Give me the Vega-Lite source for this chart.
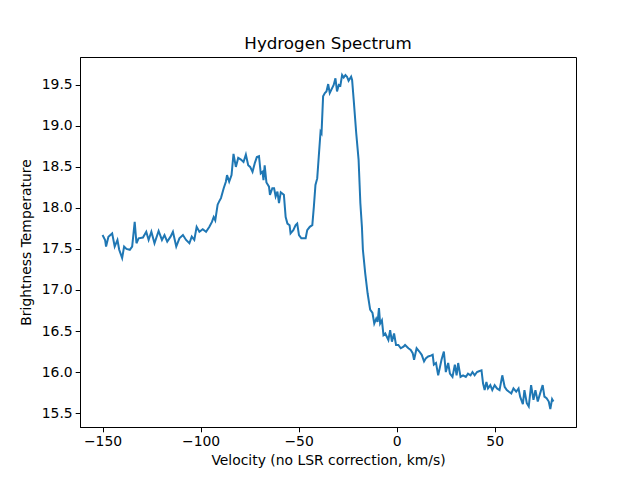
{
  "$schema": "https://vega.github.io/schema/vega-lite/v6.json",
  "autosize": "none",
  "width": 496,
  "height": 370,
  "padding": {"left": 80, "top": 57, "right": 64, "bottom": 53},
  "title": {"text": "Hydrogen Spectrum", "font": "DejaVu Sans", "fontSize": 16.7, "fontWeight": "normal", "color": "black", "offset": 4},
  "data": {"values": [
    {"v": -150.0, "t": 17.67}, {"v": -148.7, "t": 17.61}, {"v": -148.2, "t": 17.53}, {"v": -147.0, "t": 17.65},
    {"v": -145.1, "t": 17.69}, {"v": -143.8, "t": 17.53}, {"v": -142.4, "t": 17.61}, {"v": -141.5, "t": 17.49},
    {"v": -140.0, "t": 17.39}, {"v": -139.0, "t": 17.53}, {"v": -137.8, "t": 17.50}, {"v": -136.1, "t": 17.49},
    {"v": -134.9, "t": 17.53}, {"v": -133.6, "t": 17.83}, {"v": -132.7, "t": 17.57}, {"v": -131.6, "t": 17.63},
    {"v": -129.4, "t": 17.64}, {"v": -127.7, "t": 17.71}, {"v": -126.5, "t": 17.61}, {"v": -125.1, "t": 17.71},
    {"v": -123.5, "t": 17.57}, {"v": -121.4, "t": 17.72}, {"v": -119.7, "t": 17.61}, {"v": -118.4, "t": 17.67},
    {"v": -117.0, "t": 17.59}, {"v": -115.3, "t": 17.65}, {"v": -114.1, "t": 17.71}, {"v": -112.4, "t": 17.53},
    {"v": -110.8, "t": 17.63}, {"v": -109.0, "t": 17.67}, {"v": -107.4, "t": 17.61}, {"v": -105.7, "t": 17.57},
    {"v": -104.5, "t": 17.65}, {"v": -103.2, "t": 17.61}, {"v": -102.0, "t": 17.77}, {"v": -100.6, "t": 17.71},
    {"v": -98.9, "t": 17.74}, {"v": -97.2, "t": 17.71}, {"v": -95.5, "t": 17.77}, {"v": -94.2, "t": 17.83},
    {"v": -93.3, "t": 17.89}, {"v": -92.5, "t": 17.85}, {"v": -91.3, "t": 18.04}, {"v": -90.5, "t": 18.08},
    {"v": -89.6, "t": 18.12}, {"v": -88.2, "t": 18.24}, {"v": -87.1, "t": 18.32}, {"v": -86.5, "t": 18.40},
    {"v": -85.4, "t": 18.32}, {"v": -84.2, "t": 18.40}, {"v": -83.2, "t": 18.66}, {"v": -82.0, "t": 18.50},
    {"v": -80.8, "t": 18.61}, {"v": -79.4, "t": 18.59}, {"v": -78.1, "t": 18.56}, {"v": -76.9, "t": 18.65},
    {"v": -75.7, "t": 18.52}, {"v": -74.7, "t": 18.50}, {"v": -73.5, "t": 18.44}, {"v": -72.3, "t": 18.55},
    {"v": -71.3, "t": 18.62}, {"v": -70.2, "t": 18.63}, {"v": -69.3, "t": 18.42}, {"v": -68.4, "t": 18.44},
    {"v": -67.9, "t": 18.34}, {"v": -67.3, "t": 18.52}, {"v": -66.4, "t": 18.31}, {"v": -65.1, "t": 18.26},
    {"v": -64.6, "t": 18.16}, {"v": -63.4, "t": 18.24}, {"v": -62.5, "t": 18.24}, {"v": -61.7, "t": 18.14},
    {"v": -60.8, "t": 18.20}, {"v": -60.0, "t": 18.06}, {"v": -59.1, "t": 18.19}, {"v": -57.5, "t": 18.16},
    {"v": -56.6, "t": 17.89}, {"v": -55.7, "t": 17.81}, {"v": -54.6, "t": 17.79}, {"v": -54.1, "t": 17.69},
    {"v": -52.7, "t": 17.73}, {"v": -51.5, "t": 17.79}, {"v": -50.7, "t": 17.81}, {"v": -49.8, "t": 17.67},
    {"v": -48.6, "t": 17.63}, {"v": -47.3, "t": 17.63}, {"v": -46.4, "t": 17.63}, {"v": -45.6, "t": 17.73},
    {"v": -44.3, "t": 17.77}, {"v": -43.0, "t": 17.79}, {"v": -42.2, "t": 18.02}, {"v": -41.4, "t": 18.28},
    {"v": -40.5, "t": 18.36}, {"v": -39.7, "t": 18.63}, {"v": -38.8, "t": 18.93}, {"v": -38.3, "t": 18.91},
    {"v": -37.5, "t": 19.36}, {"v": -36.6, "t": 19.40}, {"v": -35.8, "t": 19.42}, {"v": -34.9, "t": 19.51},
    {"v": -34.1, "t": 19.40}, {"v": -32.9, "t": 19.46}, {"v": -32.1, "t": 19.50}, {"v": -31.2, "t": 19.58},
    {"v": -30.4, "t": 19.42}, {"v": -29.5, "t": 19.50}, {"v": -28.7, "t": 19.49}, {"v": -27.8, "t": 19.62},
    {"v": -27.0, "t": 19.59}, {"v": -26.1, "t": 19.62}, {"v": -25.3, "t": 19.60}, {"v": -24.5, "t": 19.55},
    {"v": -23.2, "t": 19.60}, {"v": -22.7, "t": 19.56}, {"v": -21.9, "t": 19.32}, {"v": -20.6, "t": 18.91},
    {"v": -19.4, "t": 18.59}, {"v": -18.5, "t": 18.06}, {"v": -17.7, "t": 17.77}, {"v": -17.2, "t": 17.49},
    {"v": -16.0, "t": 17.20}, {"v": -14.8, "t": 16.96}, {"v": -13.5, "t": 16.76}, {"v": -12.3, "t": 16.72},
    {"v": -11.4, "t": 16.59}, {"v": -10.4, "t": 16.65}, {"v": -9.7, "t": 16.61}, {"v": -9.0, "t": 16.78},
    {"v": -8.4, "t": 16.59}, {"v": -7.5, "t": 16.63}, {"v": -6.7, "t": 16.45}, {"v": -5.8, "t": 16.47},
    {"v": -5.0, "t": 16.43}, {"v": -4.2, "t": 16.39}, {"v": -3.3, "t": 16.51}, {"v": -2.4, "t": 16.37},
    {"v": -1.3, "t": 16.47}, {"v": -0.3, "t": 16.33}, {"v": 0.9, "t": 16.33}, {"v": 2.1, "t": 16.29},
    {"v": 3.5, "t": 16.31}, {"v": 4.3, "t": 16.33}, {"v": 6.0, "t": 16.29}, {"v": 7.2, "t": 16.27},
    {"v": 8.2, "t": 16.23}, {"v": 8.9, "t": 16.15}, {"v": 10.2, "t": 16.29}, {"v": 11.6, "t": 16.25},
    {"v": 12.8, "t": 16.21}, {"v": 14.0, "t": 16.13}, {"v": 15.0, "t": 16.17}, {"v": 16.1, "t": 16.19},
    {"v": 17.4, "t": 16.20}, {"v": 18.4, "t": 16.21}, {"v": 19.0, "t": 16.09}, {"v": 20.1, "t": 16.11},
    {"v": 21.2, "t": 15.96}, {"v": 22.1, "t": 16.06}, {"v": 22.9, "t": 16.15}, {"v": 24.1, "t": 16.25},
    {"v": 25.1, "t": 16.00}, {"v": 26.3, "t": 16.11}, {"v": 27.2, "t": 15.98}, {"v": 28.5, "t": 15.94},
    {"v": 29.7, "t": 16.09}, {"v": 30.6, "t": 15.96}, {"v": 31.4, "t": 16.11}, {"v": 32.6, "t": 15.94},
    {"v": 33.9, "t": 15.96}, {"v": 35.3, "t": 15.94}, {"v": 36.4, "t": 15.98}, {"v": 37.7, "t": 15.96},
    {"v": 38.7, "t": 16.00}, {"v": 39.8, "t": 15.96}, {"v": 41.0, "t": 16.00}, {"v": 42.0, "t": 16.01},
    {"v": 43.3, "t": 16.02}, {"v": 44.1, "t": 15.86}, {"v": 44.9, "t": 15.78}, {"v": 45.8, "t": 15.88},
    {"v": 46.6, "t": 15.80}, {"v": 47.8, "t": 15.84}, {"v": 48.8, "t": 15.78}, {"v": 50.0, "t": 15.84},
    {"v": 51.2, "t": 15.80}, {"v": 52.5, "t": 15.78}, {"v": 53.9, "t": 15.96}, {"v": 55.1, "t": 15.82},
    {"v": 56.2, "t": 15.78}, {"v": 57.3, "t": 15.76}, {"v": 58.5, "t": 15.74}, {"v": 59.6, "t": 15.80},
    {"v": 61.0, "t": 15.76}, {"v": 62.2, "t": 15.80}, {"v": 63.0, "t": 15.70}, {"v": 64.4, "t": 15.61},
    {"v": 65.2, "t": 15.78}, {"v": 66.4, "t": 15.62}, {"v": 67.4, "t": 15.58}, {"v": 68.6, "t": 15.84},
    {"v": 69.8, "t": 15.66}, {"v": 70.8, "t": 15.78}, {"v": 72.0, "t": 15.64}, {"v": 73.2, "t": 15.74},
    {"v": 74.5, "t": 15.84}, {"v": 75.4, "t": 15.70}, {"v": 76.5, "t": 15.68}, {"v": 77.6, "t": 15.64},
    {"v": 78.4, "t": 15.55}, {"v": 79.3, "t": 15.67}, {"v": 80.0, "t": 15.64}
  ]},
  "mark": {"type": "line", "color": "#1f77b4", "strokeWidth": 2, "clip": true},
  "encoding": {
    "x": {
      "field": "v", "type": "quantitative",
      "title": "Velocity (no LSR correction, km/s)",
      "scale": {"domain": [-161.5, 91.5], "nice": false, "zero": false},
      "axis": {"values": [-150, -100, -50, 0, 50], "format": "d", "titlePadding": 5, "labelPadding": 2.5}
    },
    "y": {
      "field": "t", "type": "quantitative",
      "title": "Brightness Temperature",
      "scale": {"domain": [15.33, 19.84], "nice": false, "zero": false},
      "axis": {"values": [15.5, 16.0, 16.5, 17.0, 17.5, 18.0, 18.5, 19.0, 19.5], "format": ".1f", "titlePadding": 8, "labelPadding": 3}
    }
  },
  "config": {
    "background": "white",
    "view": {"stroke": "black", "strokeWidth": 1},
    "axis": {
      "grid": false,
      "domainColor": "black", "domainWidth": 1,
      "tickColor": "black", "tickWidth": 1, "tickSize": 4.8,
      "labelFont": "DejaVu Sans", "labelFontSize": 13.9, "labelColor": "black",
      "titleFont": "DejaVu Sans", "titleFontSize": 13.9, "titleFontWeight": "normal", "titleColor": "black"
    }
  }
}
